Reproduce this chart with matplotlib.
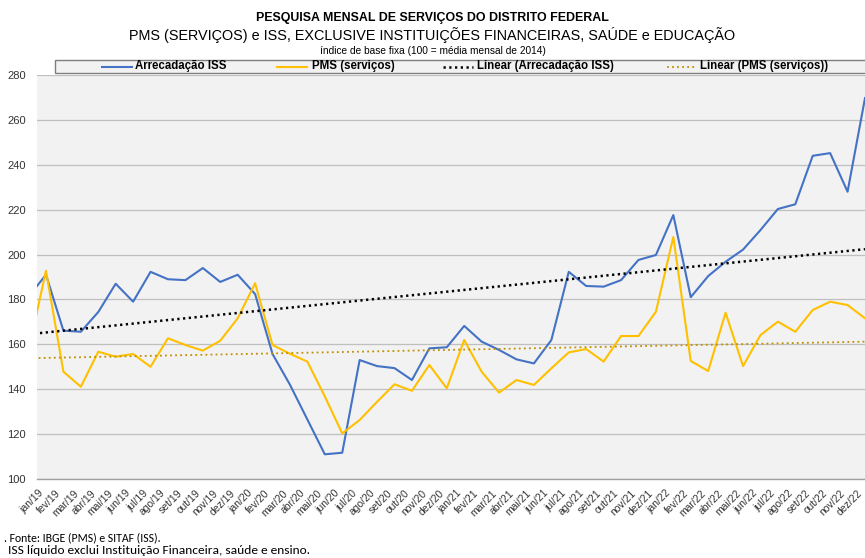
import matplotlib
matplotlib.use("Agg")
import matplotlib.pyplot as plt
from matplotlib import font_manager, transforms
from matplotlib.font_manager import FontProperties
from matplotlib.lines import Line2D
from matplotlib.patches import Rectangle
import numpy as np

# ---------------- data ----------------
months = ["jan", "fev", "mar", "abr", "mai", "jun", "jul", "ago", "set", "out", "nov", "dez"]
years = ["19", "20", "21", "22"]
tick_labels = [f"{m}/{y}" for y in years for m in months]

# first value is the (unlabelled) month preceding jan/19, partly visible at the left edge
iss_prev = 181.3
pms_prev = 157.3

iss = [191.0, 166.1, 165.6, 174.4, 187.0, 179.0, 192.3, 189.0, 188.6, 194.0, 187.8, 191.0,
       182.4, 155.7, 142.0, 126.5, 111.0, 111.7, 153.0, 150.3, 149.4, 144.1, 158.2, 158.7,
       168.2, 161.2, 157.5, 153.3, 151.5, 161.9, 192.3, 186.0, 185.7, 188.6, 197.6, 199.8,
       217.6, 181.0, 190.4, 196.8, 202.2, 210.9, 220.3, 222.4, 244.0, 245.2, 228.0, 269.7]

pms = [192.8, 147.8, 141.1, 156.7, 154.5, 155.7, 150.0, 162.7, 159.7, 157.2, 161.6, 171.6,
       187.2, 159.7, 155.8, 152.3, 136.8, 120.3, 126.3, 134.4, 142.2, 139.3, 150.8, 140.4,
       161.9, 147.8, 138.5, 144.1, 141.9, 149.3, 156.4, 157.9, 152.3, 163.7, 163.7, 174.5,
       207.8, 152.6, 148.1, 174.1, 150.3, 164.1, 170.1, 165.6, 175.3, 179.0, 177.5, 171.6]

# linear trend values (first month shown, dez/22)
iss_trend = [164.5, 202.4]
pms_trend = [153.8, 161.2]

yticks = [100, 120, 140, 160, 180, 200, 220, 240, 260, 280]

title1 = "PESQUISA MENSAL DE SERVIÇOS DO DISTRITO FEDERAL"
title2 = "PMS (SERVIÇOS) e ISS, EXCLUSIVE INSTITUIÇÕES FINANCEIRAS, SAÚDE e EDUCAÇÃO"
title3 = "índice de base fixa (100 = média mensal de 2014)"
legend_labels = ["Arrecadação ISS", "PMS (serviços)", "Linear (Arrecadação ISS)", "Linear (PMS (serviços))"]
note1 = ". Fonte: IBGE (PMS) e SITAF (ISS)."
note2 = "ISS líquido exclui Instituição Financeira, saúde e ensino."

# ---------------- fonts ----------------
avail = {f.name for f in font_manager.fontManager.ttflist}
def pick(*names):
    for n in names:
        if n in avail:
            return n
    return "DejaVu Sans"
sans = pick("Liberation Sans", "DejaVu Sans")
calib = pick("Carlito", "Lato", "Open Sans", "DejaVu Sans")
title_reg = FontProperties(family=sans)
title_bold = FontProperties(family=sans, weight="bold")

W, H = 865, 558
def fx(x):
    return x / W
def fy(y):
    return 1 - y / H

# ---------------- figure ----------------
fig = plt.figure(figsize=(W / 100, H / 100), dpi=100)
ax = fig.add_axes([fx(37), fy(479), 1 - fx(37), 404 / H])
ax.set_facecolor("#F2F2F2")

BLUE = "#4472C4"
YEL = "#FFC000"
GOLD = "#BF9000"
ISS_DOT = (0, (0.9, 1.4))
PMS_DOT = (0, (1.0, 1.8))

n = len(iss)
x_all = np.arange(-1, n)
iss_all = [iss_prev] + iss
pms_all = [pms_prev] + pms

ax.plot(x_all, iss_all, color=BLUE, lw=1.5, zorder=3)
ax.plot(x_all, pms_all, color=YEL, lw=1.5, zorder=3)

xt = [-1, n - 1]
ax.plot(xt, iss_trend, color="black", lw=1.8, ls=ISS_DOT, zorder=4)
ax.plot(xt, pms_trend, color=GOLD, lw=1.3, ls=PMS_DOT, zorder=4)

ax.set_xlim(-0.516, n - 1)
ax.set_ylim(100, 280)
ax.set_yticks(yticks)
ax.set_yticklabels([str(v) for v in yticks], fontsize=8, color="#333333", family=sans)
ax.yaxis.grid(True, color="#BFBFBF", lw=0.9)
ax.set_axisbelow(True)
ax.tick_params(axis="y", length=0, pad=8)

ax.set_xticks(np.arange(n))
ax.set_xticklabels(tick_labels, rotation=45, ha="right", va="center",
                   rotation_mode="anchor", fontsize=7.5, color="#333333", family=sans)
ax.tick_params(axis="x", length=0, pad=9)
shift = transforms.ScaledTranslation(-3 / 72, 0, fig.dpi_scale_trans)
for lab in ax.get_xticklabels():
    lab.set_transform(lab.get_transform() + shift)

for s in ["left", "right", "top"]:
    ax.spines[s].set_visible(False)
ax.spines["bottom"].set_color("#A0A0A0")
ax.spines["bottom"].set_linewidth(1.0)

# ---------------- titles (sized to the reference widths) ----------------
renderer = fig.canvas.get_renderer()
def fitted_text(x, y, s, fp, target_w):
    t = fig.text(x, y, s, ha="center", va="center", fontproperties=fp.copy())
    t.set_fontsize(10)
    w = t.get_window_extent(renderer).width
    t.set_fontsize(10 * target_w / w)
    return t

fitted_text(0.5, fy(18), title1, title_bold, 352)
fitted_text(0.5, fy(35), title2, title_reg, 608)
fitted_text(0.5, fy(51), title3, title_reg, 225)

# ---------------- legend (drawn in figure pixels) ----------------
fig.patches.append(Rectangle((fx(55), fy(73)), fx(W + 5) - fx(55), (73 - 59.5) / H,
                             transform=fig.transFigure, facecolor="#F2F2F2",
                             edgecolor="#7F7F7F", lw=1.0, zorder=1))
ly = fy(66.5)
leg_items = [
    (102, 132, 135, dict(color=BLUE, lw=1.5)),
    (277, 307, 312, dict(color=YEL, lw=1.5)),
    (443, 473, 477, dict(color="black", lw=1.8, ls=ISS_DOT)),
    (667, 697, 700, dict(color=GOLD, lw=1.3, ls=PMS_DOT)),
]
for (x0, x1, xtx, st), lab in zip(leg_items, legend_labels):
    fig.lines.append(Line2D([fx(x0), fx(x1)], [ly, ly], transform=fig.transFigure, zorder=2, **st))
    fig.text(fx(xtx), ly, lab, ha="left", va="center", fontsize=8.3,
             fontweight="bold", family=sans, zorder=3)

# ---------------- notes ----------------
fig.text(fx(4), fy(538), note1, ha="left", va="center", fontsize=8.5, family=calib)
fig.text(fx(8), fy(551), note2, ha="left", va="center", fontsize=9.6, family=calib)

fig.savefig("out.png", dpi=100)
